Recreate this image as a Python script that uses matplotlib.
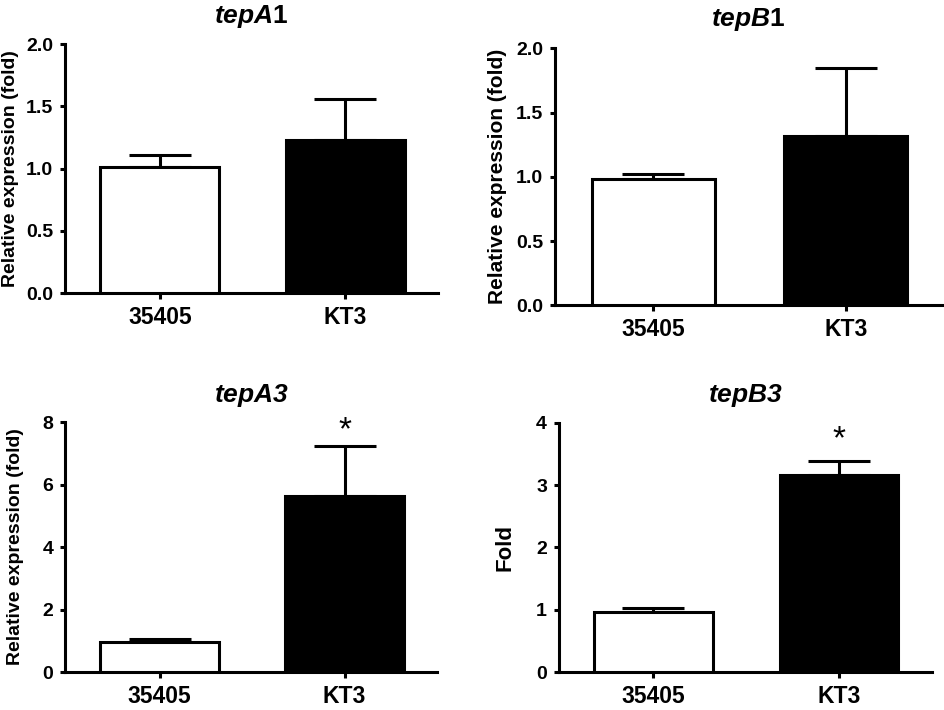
import matplotlib
matplotlib.use("Agg")
import matplotlib.pyplot as plt

plt.rcParams['font.family'] = ['Liberation Sans', 'DejaVu Sans']
plt.rcParams['font.weight'] = 'bold'
plt.rcParams['axes.labelweight'] = 'bold'
plt.rcParams['mathtext.fontset'] = 'custom'
plt.rcParams['mathtext.it'] = 'Liberation Sans:bold:italic'
plt.rcParams['mathtext.rm'] = 'Liberation Sans:bold'

strains = ["35405", "KT3"]
bar_colors = ["white", "black"]

titles = [r"$\mathit{tepA}$1", r"$\mathit{tepB}$1", r"$\mathit{tepA}$3", r"$\mathit{tepB}$3"]
title_style = ["normal", "normal", "italic", "italic"]
ylabels = ["Relative expression (fold)", "Relative expression (fold)",
           "Relative expression (fold)", "Fold"]

tepA1_mean = [1.01, 1.23]
tepA1_err = [0.10, 0.33]
tepB1_mean = [0.98, 1.32]
tepB1_err = [0.04, 0.53]
tepA3_mean = [0.96, 5.64]
tepA3_err = [0.11, 1.61]
tepB3_mean = [0.97, 3.16]
tepB3_err = [0.05, 0.23]

ytick_sets = [[0, 0.5, 1.0, 1.5, 2.0], [0, 0.5, 1.0, 1.5, 2.0],
              [0, 2, 4, 6, 8], [0, 1, 2, 3, 4]]
ytick_fmt = ["{:.1f}", "{:.1f}", "{:.0f}", "{:.0f}"]
star_pos = [None, None, 7.72, 3.73]

means = [tepA1_mean, tepB1_mean, tepA3_mean, tepB3_mean]
errs = [tepA1_err, tepB1_err, tepA3_err, tepB3_err]

boxes = [[0.069, 0.587, 0.395, 0.351],
         [0.588, 0.570, 0.410, 0.362],
         [0.069, 0.0535, 0.394, 0.352],
         [0.592, 0.0535, 0.395, 0.351]]
ylab_x = [-0.147, -0.150, -0.134, -0.145]
ylab_size = [14, 15, 14, 16]
title_pad = [15, 16, 14.5, 15]

fig = plt.figure(figsize=(9.44, 7.10), dpi=100)
lw = 2.2
x = [0, 1]

for i in range(4):
    ax = fig.add_axes(boxes[i])
    ax.bar(x, means[i], width=0.64, color=bar_colors, edgecolor="black",
           linewidth=lw, zorder=3)
    ax.errorbar(x, means[i], yerr=[[0, 0], errs[i]], fmt="none", ecolor="black",
                elinewidth=lw, capsize=22, capthick=lw, zorder=2)
    if star_pos[i] is not None:
        ax.text(1, star_pos[i], "*", ha="center", va="center", fontsize=24,
                fontweight="normal", clip_on=False)
    ax.set_xlim(-0.51, 1.5)
    ax.set_ylim(0, ytick_sets[i][-1])
    ax.set_yticks(ytick_sets[i])
    ax.set_yticklabels([ytick_fmt[i].format(v) for v in ytick_sets[i]], fontsize=14)
    ax.set_xticks(x)
    ax.set_xticklabels(strains, fontsize=16.5)
    ax.tick_params(axis="y", length=3.5, width=lw, pad=5)
    ax.tick_params(axis="x", length=4, width=lw, pad=5)
    for s in ["top", "right"]:
        ax.spines[s].set_visible(False)
    for s in ["left", "bottom"]:
        ax.spines[s].set_linewidth(lw)
    ax.set_ylabel(ylabels[i], fontsize=ylab_size[i], fontweight="bold", va="center")
    ax.yaxis.set_label_coords(ylab_x[i], 0.5)
    ax.set_title(titles[i], fontsize=19, fontweight="bold", fontstyle=title_style[i],
                 pad=title_pad[i])

fig.savefig("out.png", dpi=100)
